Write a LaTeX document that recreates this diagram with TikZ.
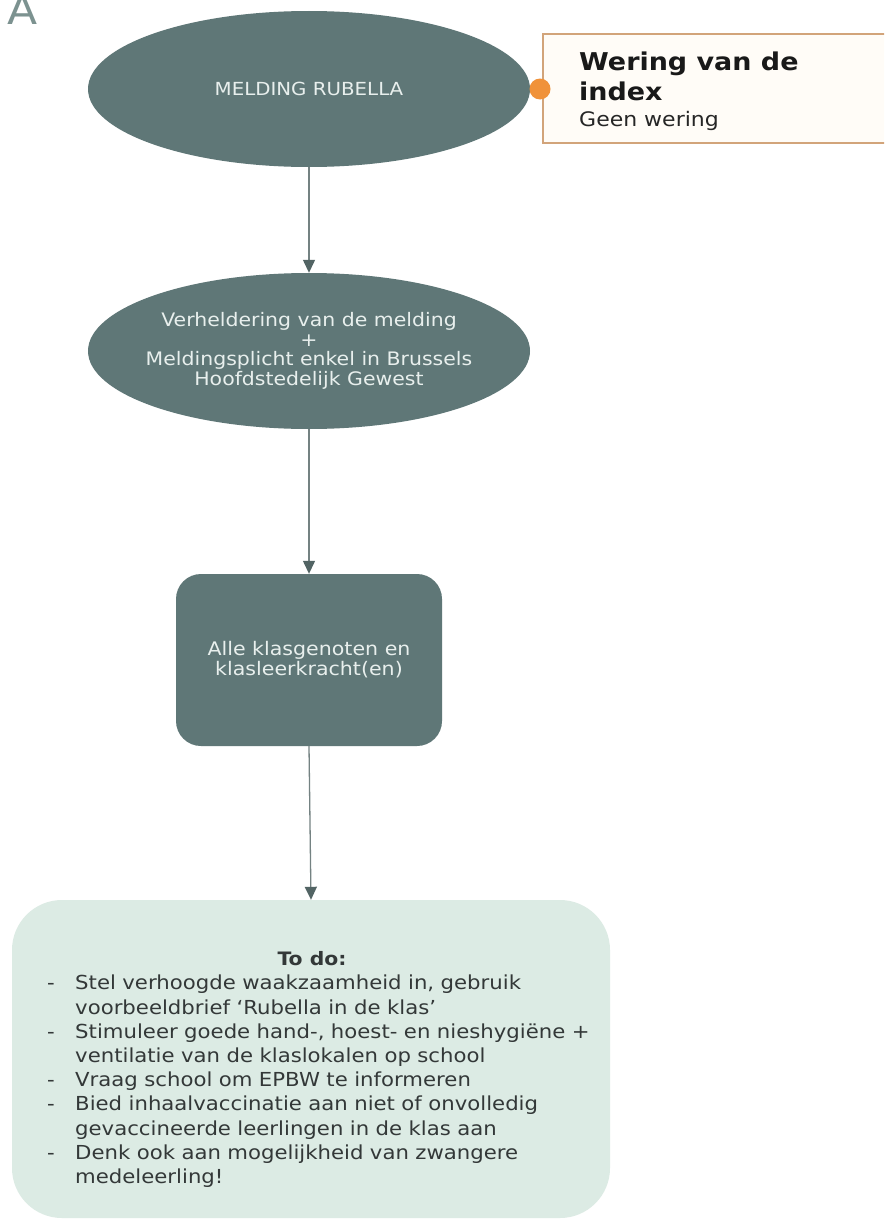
\documentclass[tikz,border=0pt]{standalone}
\usepackage{fontspec}
\setmainfont[FakeStretch=1.1]{DejaVu Sans}
\usetikzlibrary{arrows.meta,positioning,shapes.geometric}
\definecolor{RBTeal}{HTML}{5F7777}
\definecolor{RBTealText}{HTML}{E8EFED}
\definecolor{RBMint}{HTML}{DCEBE4}
\definecolor{RBArrow}{HTML}{748282}
\definecolor{RBArrowTip}{HTML}{526464}
\definecolor{RBOrange}{HTML}{F0923A}
\definecolor{RBOrangeLine}{HTML}{D2A47A}
\definecolor{RBCream}{HTML}{FFFCF7}
\definecolor{RBInk}{HTML}{333838}
\definecolor{RBTitle}{HTML}{7C9290}
\tikzset{
  flow/.style={-{Triangle[length=13pt,width=12pt,color=RBArrowTip]},RBArrow,line width=1.3pt},
  blob/.style={ellipse,fill=RBTeal,text=RBTealText,minimum width=442pt,
               minimum height=156pt,inner xsep=-15pt,inner ysep=0pt,align=center,
               font=\fontsize{18.6}{19.5}\selectfont},
  tile/.style={rectangle,fill=RBTeal,text=RBTealText,rounded corners=25pt,
               minimum width=266pt,minimum height=172pt,align=center,
               font=\fontsize{18.7}{20}\selectfont},
  todobox/.style={rectangle,fill=RBMint,rounded corners=50pt,
                  minimum width=598pt,minimum height=318pt},
  notebox/.style={rectangle,draw=RBOrangeLine,line width=1.2pt,fill=RBCream,
                  minimum width=349pt,minimum height=109pt},
  pin/.style={circle,fill=RBOrange,minimum size=21pt,inner sep=0pt},
  notehead/.style={text=black!90,font=\fontsize{24.5}{30}\selectfont\bfseries,
                   align=left,inner sep=0pt},
  notecopy/.style={text=black!85,font=\fontsize{20}{22}\selectfont,inner sep=0pt},
  listcopy/.style={text=RBInk,font=\fontsize{19.3}{24.2}\selectfont,align=left,
                   inner sep=0pt,text width=560pt},
}
\newcommand{\todoitem}[1]{\makebox[28pt][l]{-}#1}
\newcommand{\todocont}[1]{\hspace*{28pt}#1}

\begin{document}
\begin{tikzpicture}[x=1pt,y=-1pt]
  \clip (0,0) rectangle (884,1223);
  \fill[white] (0,0) rectangle (884,1223);
  \node[text=RBTitle,font=\fontsize{40}{40}\selectfont,anchor=base east,inner sep=0pt]
    (head) at (38,25) {A};

  % side note on the index case
  \node[notebox] (wering) at (717.5,88.5) {};
  \node[notehead,anchor=base west] (weringtitle) at (579,100) {Wering van de\\index};
  \node[notecopy,anchor=base west] (weringsub) at (579,126) {Geen wering};

  % flow
  \node[blob,font=\fontsize{18}{20}\selectfont] (melding) at (309,89) {MELDING RUBELLA};
  \node[pin] (dot) at (540,89) {};
  \node[blob] (verheldering) at (309,351)
    {Verheldering van de melding\\+\\Meldingsplicht enkel in Brussels\\Hoofdstedelijk Gewest};
  \node[tile] (klas) at (309,660) {Alle klasgenoten en\\klasleerkracht(en)};
  \node[todobox] (todo) at (311,1059) {};
  \node[text=RBInk,font=\fontsize{18.5}{22}\selectfont\bfseries,anchor=base,inner sep=0pt]
    (todohead) at (312,965) {To do:};
  \node[listcopy,anchor=north west] (todolist) at (47,975)
    {\todoitem{Stel verhoogde waakzaamheid in, gebruik}\\
     \todocont{voorbeeldbrief ‘Rubella in de klas’}\\
     \todoitem{Stimuleer goede hand-, hoest- en nieshygiëne +}\\
     \todocont{ventilatie van de klaslokalen op school}\\
     \todoitem{Vraag school om EPBW te informeren}\\
     \todoitem{Bied inhaalvaccinatie aan niet of onvolledig}\\
     \todocont{gevaccineerde leerlingen in de klas aan}\\
     \todoitem{Denk ook aan mogelijkheid van zwangere}\\
     \todocont{medeleerling!}};

  \draw[flow] (melding) -- (verheldering);
  \draw[flow] (verheldering) -- (klas);
  \draw[flow] (klas.south) -- (todo.north);
\end{tikzpicture}
\end{document}
